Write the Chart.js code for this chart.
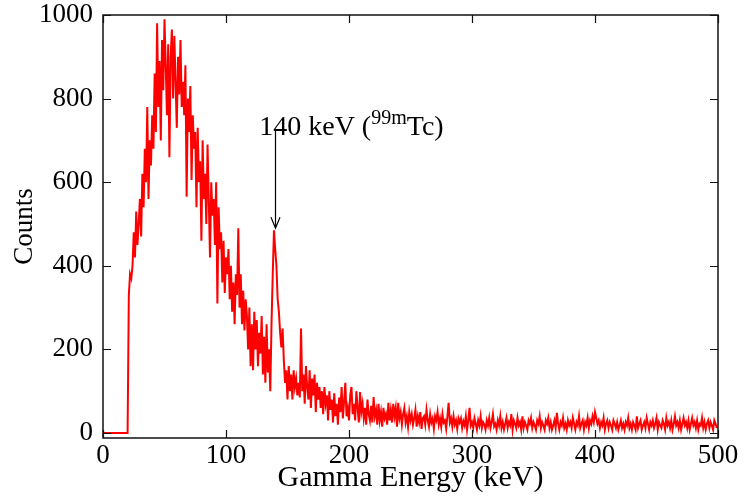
<!DOCTYPE html>
<html>
<head>
<meta charset="utf-8">
<script src="https://cdn.jsdelivr.net/npm/chart.js@4/dist/chart.umd.min.js"></script>
<style>
  html, body { margin: 0; padding: 0; background: #fff; }
  #box { width: 746px; height: 497px; }
</style>
</head>
<body>
<div id="box"><canvas id="spectrum"></canvas></div>
<script>
// counts per 1 keV channel, channel 0 .. 499
const counts = [
  0, 0, 0, 0, 0, 0, 0, 0, 0, 0,
  0, 0, 0, 0, 0, 0, 0, 0, 0, 0, 0,
  330, 380, 370, 400, 480, 420, 530, 450, 500, 560,
  470, 620, 540, 680, 600, 780, 560, 700, 640, 760,
  680, 860, 720, 980, 780, 890, 700, 940, 820, 990,
  880, 760, 930, 660, 900, 965, 800, 950, 840, 730,
  900, 810, 940, 780, 840, 760, 880, 565, 800, 720,
  830, 605, 760, 680, 720, 540, 730, 600, 650, 460,
  700, 560, 620, 500, 690, 560, 420, 600, 520, 560,
  450, 600, 310, 540, 440, 480, 360, 460, 335, 420,
  380, 440, 320, 400, 290, 360, 260, 380, 330, 490,
  300, 380, 260, 340, 245, 320, 280, 200, 300, 160,
  260, 150, 290, 200, 270, 160, 240, 190, 280, 140,
  230, 120, 260, 145, 200, 100, 260, 380, 485, 440,
  400, 320, 290, 240, 205, 250, 175, 120, 150, 80,
  160, 100, 140, 80, 150, 110, 130, 90, 120, 85,
  250, 100, 140, 70, 160, 110, 80, 150, 60, 130,
  90, 140, 50, 120, 80, 110, 60, 100, 45, 110,
  70, 90, 30, 100, 55, 80, 25, 95, 40, 70,
  20, 85, 50, 110, 35, 75, 120, 40, 60, 30,
  90, 110, 45, 70, 30, 100, 60, 25, 98, 50,
  70, 35, 60, 20, 80, 45, 30, 65, 25, 86,
  40, 55, 20, 70, 30, 50, 15, 60, 35, 45,
  20, 72, 30, 55, 25, 70, 40, 60, 15, 72,
  35, 50, 20, 45, 60, 25, 40, 15, 50, 30,
  45, 20, 35, 55, 15, 40, 25, 50, 10, 35,
  40, 20, 55, 30, 15, 45, 25, 35, 10, 40,
  30, 50, 20, 35, 15, 45, 25, 30, 10, 40,
  72, 25, 35, 15, 40, 20, 30, 10, 35, 25,
  35, 12, 28, 18, 40, 8, 30, 60, 18, 26,
  12, 35, 22, 8, 30, 18, 40, 12, 26, 20,
  8, 30, 18, 36, 12, 26, 45, 16, 22, 8,
  30, 18, 40, 12, 26, 8, 22, 36, 12, 26,
  18, 45, 8, 30, 22, 12, 36, 18, 26, 8,
  40, 12, 26, 18, 8, 30, 22, 36, 12, 26,
  18, 8, 30, 22, 40, 12, 26, 18, 8, 30,
  22, 36, 12, 26, 8, 18, 30, 12, 48, 22,
  8, 26, 18, 36, 12, 22, 8, 30, 18, 26,
  12, 36, 22, 8, 26, 18, 40, 12, 22, 30,
  8, 26, 18, 36, 12, 30, 22, 40, 26, 50,
  36, 22, 30, 12, 26, 18, 36, 8, 22, 30,
  12, 26, 18, 8, 30, 22, 12, 26, 8, 18,
  30, 12, 22, 8, 26, 18, 36, 12, 22, 8,
  26, 18, 8, 40, 12, 22, 30, 8, 18, 26,
  12, 36, 22, 8, 26, 18, 30, 12, 22, 36,
  8, 26, 18, 12, 30, 22, 8, 36, 18, 26,
  12, 30, 8, 22, 40, 18, 26, 12, 30, 8,
  22, 36, 18, 26, 12, 30, 8, 22, 36, 18,
  26, 12, 30, 8, 22, 18, 36, 12, 26, 8,
  22, 30, 12, 26, 18, 8, 30, 22, 12
];
const binKeV = 1;

const xTicks = [0, 100, 200, 300, 400, 500];
const yTicks = [0, 200, 400, 600, 800, 1000];

// the 99mTc marker: arrow at 140 keV, from 725 counts down to the peak
const peakKeV = 140;
const arrowFrom = 725;
const arrowTo = 490;
const labelKeV = 127;
const labelCounts = 713;

const points = counts.map(function(c, i) { return { x: i * binKeV, y: c }; });

const serif = "'Liberation Serif', 'DejaVu Serif', serif";

// frame, inward ticks and the peak annotation
const decorations = {
    id: 'decorations',
    afterDatasetsDraw(chart) {
        const ctx = chart.ctx;
        const a = chart.chartArea;
        const xs = chart.scales.x;
        const ys = chart.scales.y;
        const tl = 8;

        ctx.save();
        ctx.strokeStyle = '#111';
        ctx.lineWidth = 1.5;
        ctx.strokeRect(a.left, a.top, a.right - a.left, a.bottom - a.top);

        ctx.lineWidth = 1.2;
        ctx.beginPath();
        xTicks.forEach(function(v) {
            const px = Math.round(xs.getPixelForValue(v)) + 0.5;
            ctx.moveTo(px, a.bottom); ctx.lineTo(px, a.bottom - tl);
            ctx.moveTo(px, a.top); ctx.lineTo(px, a.top + tl);
        });
        yTicks.forEach(function(v) {
            const py = Math.round(ys.getPixelForValue(v)) + 0.5;
            ctx.moveTo(a.left, py); ctx.lineTo(a.left + tl, py);
            ctx.moveTo(a.right, py); ctx.lineTo(a.right - tl, py);
        });
        ctx.stroke();

        // arrow
        const ax = Math.round(xs.getPixelForValue(peakKeV)) + 0.5;
        const ay1 = ys.getPixelForValue(arrowFrom);
        const ay2 = ys.getPixelForValue(arrowTo);
        ctx.strokeStyle = '#000';
        ctx.lineWidth = 1.2;
        ctx.beginPath();
        ctx.moveTo(ax, ay1); ctx.lineTo(ax, ay2);
        ctx.moveTo(ax - 4.5, ay2 - 11); ctx.lineTo(ax, ay2); ctx.lineTo(ax + 4.5, ay2 - 11);
        ctx.stroke();

        // label "140 keV (99mTc)"
        let tx = xs.getPixelForValue(labelKeV);
        const ty = ys.getPixelForValue(labelCounts);
        ctx.fillStyle = '#000';
        ctx.textBaseline = 'alphabetic';
        ctx.textAlign = 'left';
        ctx.font = '28px ' + serif;
        ctx.fillText('140 keV (', tx, ty);
        tx += ctx.measureText('140 keV (').width;
        ctx.font = '20px ' + serif;
        ctx.fillText('99m', tx, ty - 11);
        tx += ctx.measureText('99m').width;
        ctx.font = '28px ' + serif;
        ctx.fillText('Tc)', tx, ty);
        ctx.restore();
    }
};

new Chart(document.getElementById('spectrum'), {
    type: 'line',
    data: {
        datasets: [{
            data: points,
            borderColor: '#ff0000',
            borderWidth: 2,
            pointRadius: 0,
            tension: 0,
            fill: false
        }]
    },
    options: {
        responsive: true,
        maintainAspectRatio: false,
        animation: false,
        events: [],
        layout: { padding: { top: 15, right: 28, left: 0, bottom: 0 } },
        plugins: {
            legend: { display: false },
            tooltip: { enabled: false }
        },
        scales: {
            x: {
                type: 'linear',
                min: 0,
                max: 500,
                afterFit: function(s) {
                    s.height = 59;
                    s.paddingLeft = 0;
                    s.paddingRight = 0;
                },
                afterBuildTicks: function(s) { s.ticks = xTicks.map(function(v) { return { value: v }; }); },
                grid: { display: false, drawTicks: false },
                border: { display: false },
                ticks: {
                    padding: 2,
                    maxRotation: 0,
                    color: '#000',
                    font: { family: serif, size: 27 },
                    callback: function(v) { return String(v); }
                },
                title: {
                    display: true,
                    text: 'Gamma Energy (keV)',
                    color: '#000',
                    font: { family: serif, size: 30 },
                    padding: { top: 0, bottom: 1 }
                }
            },
            y: {
                type: 'linear',
                min: -12,
                max: 1000,
                afterFit: function(s) {
                    s.width = 103;
                    s.paddingTop = 0;
                    s.paddingBottom = 0;
                },
                afterBuildTicks: function(s) { s.ticks = yTicks.map(function(v) { return { value: v }; }); },
                grid: { display: false, drawTicks: false },
                border: { display: false },
                ticks: {
                    padding: 10,
                    color: '#000',
                    font: { family: serif, size: 27 },
                    callback: function(v) { return String(v); }
                },
                title: {
                    display: true,
                    text: 'Counts',
                    color: '#000',
                    font: { family: serif, size: 27 },
                    padding: { top: 9, bottom: 0 }
                }
            }
        }
    },
    plugins: [decorations]
});
</script>
</body>
</html>
